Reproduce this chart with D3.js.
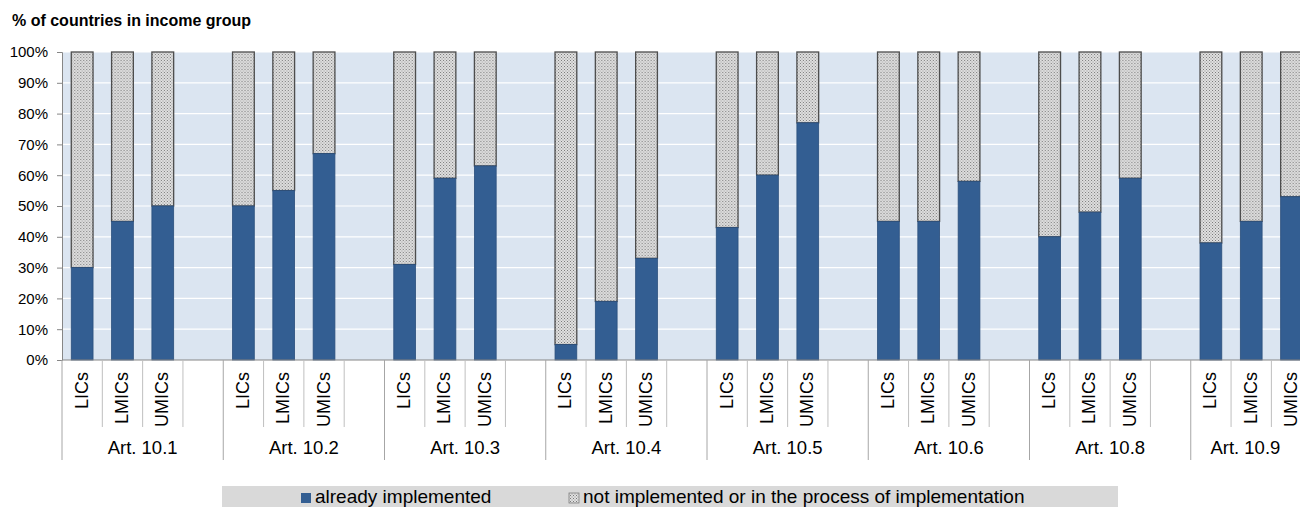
<!DOCTYPE html>
<html>
<head>
<meta charset="utf-8">
<script src="https://cdn.jsdelivr.net/npm/d3@7"></script>
<style>
  html, body { margin: 0; padding: 0; background: #fff; overflow: hidden; }
  svg { display: block; font-family: "Liberation Sans", Arial, sans-serif; }
</style>
</head>
<body>
<script>
// Articles (groups) and income groups (bars within each article)
const articles = ["Art. 10.1", "Art. 10.2", "Art. 10.3", "Art. 10.4", "Art. 10.5", "Art. 10.6", "Art. 10.8", "Art. 10.9"];
const incomeGroups = ["LICs", "LMICs", "UMICs"];

// Share of countries (%) with the article already implemented, per income group
const implLICs  = [30, 50, 31, 5, 43, 45, 40, 38];
const implLMICs = [45, 55, 59, 19, 60, 45, 48, 45];
const implUMICs = [50, 67, 63, 33, 77, 58, 59, 53];

const yTicks = [0, 10, 20, 30, 40, 50, 60, 70, 80, 90, 100];
const seriesNames = ["already implemented", "not implemented or in the process of implementation"];
const titleText = "% of countries in income group";

const W = 1300, H = 507;
const margin = { left: 62, top: 52, bottom: 360 };
const groupW = 161.25;

const svg = d3.select("body").append("svg").attr("width", W).attr("height", H);

// Dotted fill for the "not implemented" segment
const defs = svg.append("defs");
const pat = defs.append("pattern").attr("id", "dots")
  .attr("patternUnits", "userSpaceOnUse").attr("width", 3).attr("height", 3);
pat.append("rect").attr("width", 3).attr("height", 3).attr("fill", "#e0e0e0");
pat.append("rect").attr("x", 0).attr("y", 0).attr("width", 1).attr("height", 1).attr("fill", "#7a7a7a");
pat.append("rect").attr("x", 1.5).attr("y", 1.5).attr("width", 1).attr("height", 1).attr("fill", "#8a8a8a");

const x0 = d3.scaleBand().domain(articles)
  .range([margin.left, margin.left + groupW * articles.length]).padding(0);
const slots = incomeGroups.concat(["_gap"]);
const x1 = d3.scaleBand().domain(slots).range([0, x0.bandwidth()]).padding(0);
const barW = x1.bandwidth() * 0.54;

const y = d3.scaleLinear().domain([0, 100]).range([margin.bottom, margin.top]);

// Plot background
svg.append("rect").attr("x", margin.left).attr("y", margin.top)
  .attr("width", x0.range()[1] - margin.left).attr("height", margin.bottom - margin.top)
  .attr("fill", "#dbe5f1");

// Gridlines
svg.append("g").selectAll("line").data(yTicks.filter(d => d > 0)).join("line")
  .attr("x1", margin.left).attr("x2", x0.range()[1])
  .attr("y1", d => y(d)).attr("y2", d => y(d))
  .attr("stroke", "#ffffff").attr("stroke-width", 1.2);

// Y axis
const yAxis = d3.axisLeft(y).tickValues(yTicks).tickFormat(d => d + "%").tickSize(5).tickPadding(9);
const gy = svg.append("g").attr("transform", `translate(${margin.left},0)`).call(yAxis);
gy.select(".domain").attr("stroke", "#868686");
gy.selectAll(".tick line").attr("stroke", "#868686");
gy.selectAll(".tick text").attr("font-size", 15).attr("fill", "#000")
  .attr("font-family", "'Liberation Sans', Arial, sans-serif");

// Bars
const implSeries = { LICs: implLICs, LMICs: implLMICs, UMICs: implUMICs };
const rows = [];
articles.forEach((a, i) => {
  incomeGroups.forEach(g => rows.push({ article: a, group: g, value: implSeries[g][i] }));
});

const bars = svg.append("g").selectAll("g").data(rows).join("g")
  .attr("transform", d => `translate(${x0(d.article) + x1(d.group) + (x1.bandwidth() - barW) / 2},0)`);

bars.append("rect")
  .attr("y", y(100)).attr("width", barW)
  .attr("height", d => y(d.value) - y(100))
  .attr("fill", "url(#dots)").attr("stroke", "#4d4d4d").attr("stroke-width", 1.3);

bars.append("rect")
  .attr("y", d => y(d.value)).attr("width", barW)
  .attr("height", d => y(0) - y(d.value))
  .attr("fill", "#335e92").attr("stroke", "#2b4f7c").attr("stroke-width", 0.8);

// X axis baseline
svg.append("line").attr("x1", margin.left).attr("x2", x0.range()[1])
  .attr("y1", y(0)).attr("y2", y(0)).attr("stroke", "#868686");

// Category separators
const catAxis = svg.append("g");
articles.forEach(a => {
  slots.forEach((s, j) => {
    const xx = x0(a) + x1(s);
    catAxis.append("line").attr("x1", xx).attr("x2", xx)
      .attr("y1", y(0)).attr("y2", j === 0 ? 460 : 427)
      .attr("stroke", j === 0 ? "#a6a6a6" : "#bfbfbf");
  });
});

// Income group labels (rotated)
svg.append("g").selectAll("text").data(rows).join("text")
  .attr("transform", d => `translate(${x0(d.article) + x1(d.group) + x1.bandwidth() / 2 - 0.5},372) rotate(-90)`)
  .attr("text-anchor", "end").attr("dominant-baseline", "central")
  .attr("font-size", 18).attr("fill", "#000").text(d => d.group);

// Article labels, centred on the visible part of each group
svg.append("g").selectAll("text").data(articles).join("text")
  .attr("x", d => (x0(d) + Math.min(x0(d) + x0.bandwidth(), W)) / 2).attr("y", 454)
  .attr("text-anchor", "middle").attr("font-size", 18.5).attr("fill", "#000").text(d => d);

// Title
svg.append("text").attr("x", 12).attr("y", 26).attr("font-size", 16).attr("font-weight", "bold")
  .attr("fill", "#000").text(titleText);

// Legend
const lg = svg.append("g");
lg.append("rect").attr("x", 222).attr("y", 486).attr("width", 896).attr("height", 25).attr("fill", "#d9d9d9");
lg.append("rect").attr("x", 301).attr("y", 493).attr("width", 10).attr("height", 10).attr("fill", "#335e92");
lg.append("text").attr("x", 315).attr("y", 503).attr("font-size", 19).attr("fill", "#000").text(seriesNames[0]);
lg.append("rect").attr("x", 569).attr("y", 493).attr("width", 10).attr("height", 10)
  .attr("fill", "url(#dots)").attr("stroke", "#7f7f7f").attr("stroke-width", 0.8);
lg.append("text").attr("x", 583).attr("y", 503).attr("font-size", 19).attr("fill", "#000").text(seriesNames[1]);
</script>
</body>
</html>
